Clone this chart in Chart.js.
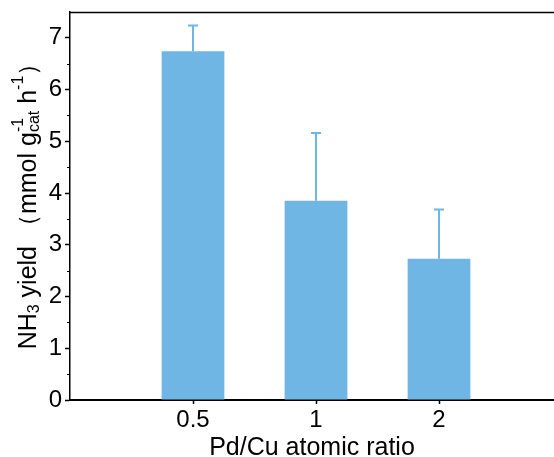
<!DOCTYPE html>
<html>
<head>
<meta charset="utf-8">
<script src="https://cdn.jsdelivr.net/npm/chart.js@4"></script>
<style>
  html, body { margin: 0; padding: 0; background: #fff; overflow: hidden; }
  #wrap { width: 554px; height: 457px; }
</style>
</head>
<body>
<div id="wrap"><canvas id="chart" width="554" height="457"></canvas></div>
<script>
const categories = ['0.5', '1', '2'];
const yieldValues = [6.74, 3.85, 2.73];
const yieldErrors = [0.50, 1.31, 0.95];
const yTicks = [0, 1, 2, 3, 4, 5, 6, 7];

const BAR_COLOR = '#70b6e4';
const FONT = 'Arial, "Liberation Sans", sans-serif';

// upward-only error bars with a short cap
const errorBars = {
  id: 'errorBars',
  afterDatasetsDraw(chart) {
    const { ctx, scales } = chart;
    ctx.save();
    ctx.strokeStyle = BAR_COLOR;
    ctx.lineWidth = 2;
    yieldValues.forEach((v, i) => {
      const x = scales.x.getPixelForValue(i + 1);
      const y0 = scales.y.getPixelForValue(v);
      const y1 = scales.y.getPixelForValue(v + yieldErrors[i]);
      ctx.beginPath();
      ctx.moveTo(x, y0);
      ctx.lineTo(x, y1);
      ctx.moveTo(x - 5, y1);
      ctx.lineTo(x + 5, y1);
      ctx.stroke();
    });
    ctx.restore();
  }
};

// top frame line, minor y ticks and the y-axis title with sub/superscripts
const decorations = {
  id: 'decorations',
  afterDraw(chart) {
    const { ctx, chartArea, scales } = chart;
    ctx.save();
    ctx.strokeStyle = '#000';
    ctx.lineWidth = 1.5;
    ctx.beginPath();
    ctx.moveTo(chartArea.left, chartArea.top + 0.5);
    ctx.lineTo(chartArea.right, chartArea.top + 0.5);
    ctx.stroke();

    ctx.lineWidth = 1;
    for (let v = 0.5; v < 7.5; v += 1) {
      const y = Math.round(scales.y.getPixelForValue(v)) + 0.5;
      ctx.beginPath();
      ctx.moveTo(chartArea.left - 3, y);
      ctx.lineTo(chartArea.left, y);
      ctx.stroke();
    }

    const big = '25px ' + FONT;
    const small = '16px ' + FONT;
    const parts = [
      { t: 'NH', f: big, dy: 0 },
      { t: '3', f: small, dy: 6 },
      { t: ' yield \uFF08mmol g', f: big, dy: 0 },
      { t: 'cat', f: small, dy: 6, stack: '-1' },
      { t: ' h', f: big, dy: 0 },
      { t: '-1', f: small, dy: -10 },
      { t: '\uFF09', f: big, dy: 0 }
    ];
    let total = 0;
    parts.forEach(p => {
      ctx.font = p.f;
      p.w = ctx.measureText(p.t).width;
      total += p.w;
    });
    ctx.translate(29, (chartArea.top + chartArea.bottom) / 2 - 6);
    ctx.rotate(-Math.PI / 2);
    ctx.fillStyle = '#000';
    ctx.textBaseline = 'middle';
    ctx.textAlign = 'left';
    let x = -total / 2;
    parts.forEach(p => {
      ctx.font = p.f;
      ctx.fillText(p.t, x, p.dy);
      if (p.stack) ctx.fillText(p.stack, x, -10);
      x += p.w;
    });
    ctx.restore();
  }
};

new Chart(document.getElementById('chart'), {
  type: 'bar',
  data: {
    datasets: [{
      data: categories.map((c, i) => ({ x: i + 1, y: yieldValues[i] })),
      backgroundColor: BAR_COLOR,
      borderWidth: 0,
      barPercentage: 0.51,
      categoryPercentage: 1
    }]
  },
  options: {
    responsive: false,
    animation: false,
    layout: { padding: { top: 12, right: 0, left: 0, bottom: 0 } },
    plugins: { legend: { display: false }, tooltip: { enabled: false } },
    scales: {
      x: {
        type: 'linear',
        offset: false,
        min: 0,
        max: 484 / 123,
        afterBuildTicks: s => { s.ticks = categories.map((c, i) => ({ value: i + 1 })); },
        afterFit: s => { s.height = 57; s.paddingLeft = 0; s.paddingRight = 0; },
        ticks: {
          color: '#000',
          font: { family: FONT, size: 24 },
          padding: 2,
          callback: v => categories[v - 1]
        },
        grid: { offset: false, drawOnChartArea: false, tickLength: 4, tickColor: '#000', tickWidth: 1.5 },
        border: { color: '#000', width: 2 },
        title: {
          display: true,
          text: 'Pd/Cu atomic ratio',
          color: '#000',
          font: { family: FONT, size: 25, lineHeight: 1 },
          padding: { top: 0, bottom: -4 }
        }
      },
      y: {
        min: 0,
        max: 7.5,
        afterBuildTicks: s => { s.ticks = yTicks.map(v => ({ value: v })); },
        afterFit: s => { s.width = 70; s.paddingTop = 0; s.paddingBottom = 0; },
        ticks: {
          color: '#000',
          font: { family: FONT, size: 24 },
          padding: 3
        },
        grid: { drawOnChartArea: false, tickLength: 5, tickColor: '#000', tickWidth: 1.5 },
        border: { color: '#000', width: 1.5 }
      }
    }
  },
  plugins: [errorBars, decorations]
});
</script>
</body>
</html>
